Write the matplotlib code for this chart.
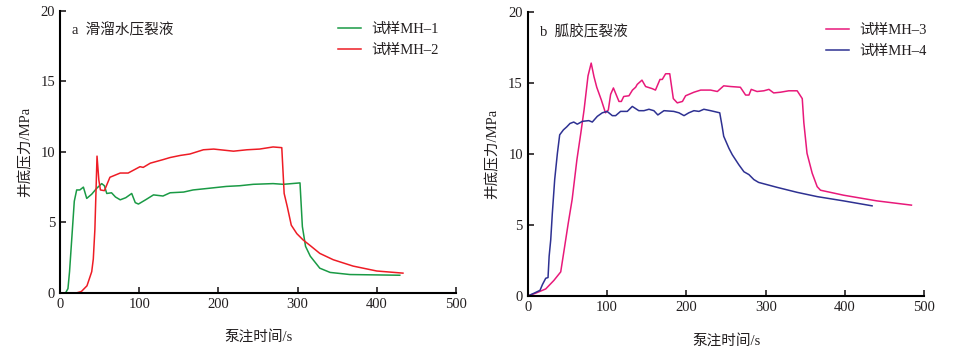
import matplotlib
matplotlib.use("Agg")
import matplotlib.pyplot as plt

plt.rcParams['font.family'] = ['Liberation Serif', 'Noto Sans CJK SC']
plt.rcParams['axes.unicode_minus'] = False

# --- data ---
mh1_t = [0, 7, 10, 12, 15, 18, 21, 25, 29.5, 33.7, 40, 46, 52.6, 56, 59, 65, 70, 76, 83, 90.5, 95, 99,
         108, 118, 130, 139, 156, 168, 185, 210, 227, 244, 269, 282, 303, 306, 310, 316, 328, 341, 366, 429]
mh1_p = [0, 0, 0.3, 1.5, 4.0, 6.5, 7.3, 7.3, 7.5, 6.7, 7.0, 7.4, 7.75, 7.6, 7.05, 7.1, 6.8, 6.6, 6.75, 7.05, 6.4, 6.3,
         6.6, 6.95, 6.87, 7.1, 7.15, 7.3, 7.4, 7.55, 7.6, 7.7, 7.75, 7.7, 7.8, 4.7, 3.3, 2.6, 1.75, 1.45, 1.3, 1.25]

mh2_t = [21, 27, 34, 40, 42, 44, 46.7, 49, 51, 56, 63, 76, 86, 101, 105, 114, 130, 139, 152, 164, 181, 194,
         219, 236, 252, 269, 280, 283, 287, 292, 299, 307, 316, 328, 345, 370, 400, 433]
mh2_p = [0, 0.1, 0.5, 1.5, 2.4, 4.5, 9.7, 8.0, 7.3, 7.25, 8.2, 8.5, 8.5, 8.95, 8.9, 9.2, 9.45, 9.6, 9.75, 9.85, 10.15, 10.2,
         10.05, 10.15, 10.2, 10.35, 10.3, 7.05, 6.1, 4.8, 4.2, 3.75, 3.35, 2.8, 2.35, 1.9, 1.55, 1.4]

mh3_t = [0, 10, 22.7, 33, 41.6, 46.6, 51, 56, 62, 67, 71, 76, 80, 83.5, 87, 92.8, 98, 101.6, 104.5, 108, 115, 118,
         121, 127.6, 132, 136, 138, 144, 148.6, 157, 161, 166.7, 169.6, 173.8, 179, 183.5, 188.5, 195, 199, 209.5,
         218, 230.5, 239, 247, 255.7, 268, 274.6, 278.8, 281.7, 289, 297.6, 304, 310, 318.6, 329, 339.6, 346, 348,
         352, 358.5, 364.8, 369, 398, 440, 483.6]
mh3_p = [0, 0.2, 0.5, 1.1, 1.7, 3.5, 5.1, 6.8, 9.6, 11.5, 13.1, 15.5, 16.4, 15.45, 14.7, 13.8, 12.9, 13.1, 14.2, 14.65,
         13.7, 13.7, 14.05, 14.1, 14.5, 14.7, 14.9, 15.2, 14.75, 14.6, 14.5, 15.25, 15.25, 15.65, 15.65, 13.9, 13.6,
         13.7, 14.1, 14.35, 14.5, 14.5, 14.4, 14.8, 14.75, 14.7, 14.15, 14.15, 14.55, 14.4, 14.45, 14.55, 14.3, 14.35,
         14.45, 14.45, 13.9, 12.2, 10.05, 8.65, 7.7, 7.45, 7.1, 6.7, 6.4]

mh4_t = [0, 8, 15.5, 18.5, 22.7, 25.6, 27, 29, 31, 34, 37.4, 40.3, 45, 49, 53.3, 58, 62.5, 69, 77, 81.4, 87.7, 94,
         100, 106.6, 110.8, 117, 125.5, 131.8, 140, 146.5, 152.8, 159, 164, 171.7, 184, 190.6, 197, 203, 209.5,
         215.8, 222, 230.5, 242, 245, 247, 253.6, 257.8, 266, 272.5, 278.8, 285, 291, 314.4, 339.6, 364.8, 398, 434]
mh4_p = [0, 0.2, 0.4, 0.8, 1.25, 1.3, 2.8, 3.95, 5.8, 8.2, 10.05, 11.35, 11.7, 11.9, 12.15, 12.25, 12.1, 12.3, 12.35,
         12.25, 12.65, 12.9, 13.0, 12.7, 12.7, 13.0, 13.0, 13.35, 13.05, 13.05, 13.15, 13.05, 12.75, 13.05, 13.0, 12.9,
         12.7, 12.9, 13.05, 13.0, 13.15, 13.05, 12.9, 11.95, 11.25, 10.4, 9.95, 9.25, 8.75, 8.55, 8.2, 8.0, 7.65, 7.3,
         7.0, 6.7, 6.35]

x_ticks = [0, 100, 200, 300, 400, 500]
y_ticks = [0, 5, 10, 15, 20]

fig = plt.figure(figsize=(9.56, 3.52), dpi=100)
ax1 = fig.add_axes([0.0628, 0.168, 0.4142, 0.801])
ax2 = fig.add_axes([0.552, 0.159, 0.415, 0.807])


def style(ax, label, leg_x):
    ax.set_xlim(0, 500)
    ax.set_ylim(0, 20)
    ax.set_xticks(x_ticks)
    ax.set_yticks(y_ticks)
    for s in ['top', 'right']:
        ax.spines[s].set_visible(False)
    for s in ['left', 'bottom']:
        ax.spines[s].set_linewidth(1.5)
    ax.tick_params(direction='in', length=4, width=1.2, labelsize=10.5, colors='#231f20')
    ax.set_xlabel('泵注时间/s', fontsize=10.5, color='#231f20', labelpad=14)
    ax.set_ylabel('井底压力/MPa', fontsize=10.5, color='#231f20', labelpad=6)
    ax.text(0.03, 0.93, label, transform=ax.transAxes, fontsize=10.5, color='#231f20',
            ha='left', va='center')
    leg = ax.legend(loc='upper right', bbox_to_anchor=(leg_x, 1.004), frameon=False,
                    fontsize=10.5, handlelength=1.6, handletextpad=0.7, labelspacing=0.55)
    for t in leg.get_texts():
        t.set_color('#231f20')


ax1.plot(mh1_t, mh1_p, color='#1a9a45', lw=1.1, label='试样MH–1')
ax1.plot(mh2_t, mh2_p, color='#ee1c25', lw=1.1, label='试样MH–2')
style(ax1, 'a  滑溜水压裂液', 0.99)

ax2.plot(mh3_t, mh3_p, color='#e8197a', lw=1.1, label='试样MH–3')
ax2.plot(mh4_t, mh4_p, color='#2e3192', lw=1.1, label='试样MH–4')
style(ax2, 'b  胍胶压裂液', 1.04)

fig.savefig('out.png', dpi=100)
